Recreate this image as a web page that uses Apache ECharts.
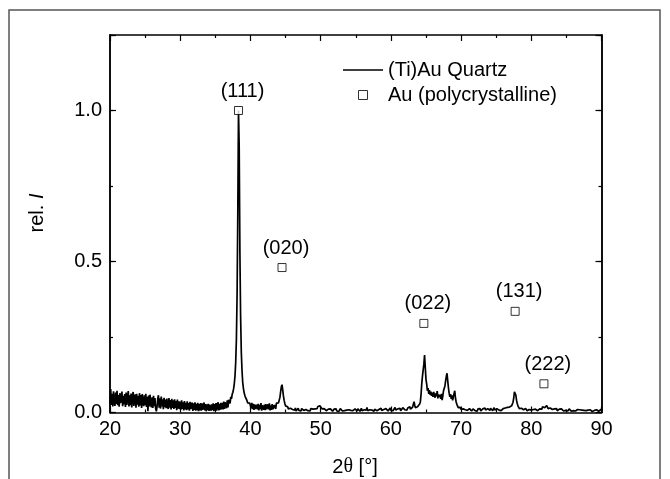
<!DOCTYPE html>
<html><head><meta charset="utf-8">
<script src="https://cdn.jsdelivr.net/npm/echarts@6/dist/echarts.min.js"></script>
<style>html,body{margin:0;padding:0;background:#fff}#c{width:670px;height:479px}</style>
</head><body><div id="c"></div>
<script>
// ---- data ----
const angleStart = 20;   // first 2θ sample [°]
const angleStep = 0.1;   // 2θ sampling step [°]
const intensity = [
0.030,0.078,0.025,0.062,0.020,0.070,0.034,0.022,0.066,0.028,
0.072,0.024,0.058,0.019,0.064,0.031,0.026,0.069,0.021,0.055,
0.027,0.061,0.018,0.066,0.025,0.052,0.071,0.020,0.057,0.024,
0.063,0.017,0.054,0.068,0.022,0.049,0.060,0.016,0.062,0.026,
0.055,0.019,0.064,0.023,0.058,0.015,0.061,0.030,0.021,0.057,
0.024,0.062,0.018,0.052,0.004,0.056,0.020,0.059,0.026,0.017,
0.050,0.015,0.055,0.021,0.048,0.013,0.004,0.019,0.046,0.057,
0.016,0.047,0.013,0.053,0.020,0.044,0.011,0.049,0.018,0.043,
0.014,0.046,0.019,0.012,0.048,0.016,0.041,0.010,0.045,0.015,
0.040,0.012,0.044,0.015,0.038,0.008,0.043,0.013,0.037,0.011,
0.036,0.009,0.040,0.012,0.034,0.007,0.038,0.010,0.032,0.008,
0.037,0.010,0.031,0.006,0.035,0.011,0.007,0.033,0.005,0.030,
0.009,0.034,0.006,0.029,0.008,0.032,0.004,0.028,0.007,0.031,
0.006,0.030,0.009,0.005,0.033,0.007,0.028,0.004,0.027,0.008,
0.029,0.005,0.026,0.032,0.006,0.027,0.008,0.030,0.004,0.028,
0.008,0.031,0.006,0.027,0.034,0.007,0.029,0.009,0.032,0.010,
0.032,0.010,0.036,0.012,0.034,0.038,0.014,0.040,0.017,0.042,
0.048,0.030,0.052,0.045,0.060,0.067,0.078,0.095,0.120,0.165,
0.240,0.390,0.660,1.000,0.880,0.530,0.320,0.200,0.140,0.100,
0.080,0.066,0.057,0.050,0.045,0.040,0.032,0.037,0.028,0.031,
0.030,0.014,0.032,0.011,0.029,0.009,0.027,0.012,0.008,0.026,
0.010,0.029,0.007,0.025,0.011,0.031,0.006,0.024,0.028,0.009,
0.026,0.008,0.028,0.011,0.006,0.027,0.010,0.030,0.007,0.024,
0.009,0.028,0.011,0.007,0.025,0.029,0.012,0.031,0.033,0.026,
0.032,0.038,0.050,0.068,0.085,0.092,0.075,0.055,0.040,0.030,
0.022,0.025,0.016,0.019,0.012,0.017,0.009,0.014,0.011,0.016,
0.010,0.006,0.013,0.008,0.015,0.005,0.011,0.009,0.014,0.007,
0.012,0.008,0.005,0.013,0.009,0.016,0.007,0.011,0.006,0.010,
0.008,0.014,0.006,0.010,0.012,0.005,0.013,0.009,0.007,0.011,
0.009,0.006,0.012,0.008,0.014,0.013,0.020,0.024,0.019,0.022,
0.017,0.021,0.012,0.015,0.010,0.013,0.008,0.011,0.006,0.010,
0.007,0.011,0.005,0.009,0.012,0.006,0.010,0.004,0.008,0.011,
0.006,0.009,0.012,0.005,0.008,0.010,0.004,0.009,0.013,0.007,
0.010,0.005,0.008,0.011,0.006,0.009,0.003,0.008,0.012,0.006,
0.009,0.004,0.011,0.007,0.010,0.013,0.006,0.009,0.005,0.012,
0.008,0.010,0.005,0.012,0.007,0.009,0.004,0.010,0.014,0.006,
0.011,0.007,0.009,0.005,0.012,0.008,0.017,0.006,0.010,0.007,
0.009,0.005,0.012,0.008,0.006,0.010,0.004,0.011,0.007,0.009,
0.006,0.012,0.008,0.010,0.005,0.009,0.014,0.007,0.011,0.008,
0.010,0.006,0.009,0.013,0.007,0.011,0.005,0.010,0.008,0.015,
0.007,0.011,0.009,0.006,0.012,0.010,0.017,0.008,0.011,0.007,
0.012,0.008,0.010,0.014,0.006,0.011,0.009,0.016,0.010,0.013,
0.009,0.014,0.011,0.008,0.015,0.010,0.013,0.019,0.011,0.015,
0.012,0.018,0.027,0.036,0.024,0.016,0.021,0.014,0.019,0.024,
0.022,0.028,0.035,0.060,0.095,0.120,0.140,0.160,0.190,0.150,
0.110,0.095,0.072,0.081,0.062,0.074,0.058,0.069,0.055,0.066,
0.052,0.068,0.057,0.049,0.063,0.054,0.071,0.047,0.060,0.051,
0.058,0.045,0.062,0.041,0.055,0.072,0.066,0.088,0.105,0.120,
0.130,0.105,0.082,0.064,0.052,0.061,0.045,0.057,0.040,0.052,
0.062,0.072,0.048,0.035,0.027,0.022,0.016,0.020,0.013,0.017,
0.010,0.014,0.008,0.012,0.006,0.011,0.009,0.005,0.012,0.007,
0.010,0.006,0.013,0.008,0.011,0.005,0.009,0.012,0.007,0.010,
0.006,0.011,0.008,0.004,0.012,0.009,0.007,0.013,0.005,0.010,
0.009,0.012,0.006,0.010,0.015,0.008,0.011,0.007,0.013,0.009,
0.011,0.007,0.014,0.009,0.012,0.006,0.010,0.016,0.008,0.012,
0.009,0.013,0.007,0.011,0.008,0.014,0.010,0.006,0.012,0.009,
0.013,0.008,0.011,0.015,0.009,0.012,0.017,0.011,0.014,0.018,
0.015,0.019,0.022,0.026,0.034,0.048,0.068,0.074,0.058,0.040,
0.030,0.022,0.018,0.013,0.016,0.010,0.014,0.008,0.012,0.009,
0.011,0.007,0.013,0.009,0.006,0.012,0.008,0.010,0.005,0.011,
0.008,0.012,0.006,0.010,0.014,0.007,0.011,0.009,0.013,0.006,
0.010,0.007,0.012,0.009,0.015,0.011,0.019,0.014,0.022,0.016,
0.020,0.015,0.023,0.017,0.013,0.019,0.011,0.015,0.009,0.013,
0.010,0.014,0.008,0.012,0.007,0.011,0.013,0.006,0.010,0.008,
0.011,0.006,0.009,0.012,0.007,0.010,0.005,0.009,0.011,0.007,
0.008,0.010,0.005,0.009,0.012,0.006,0.008,0.004,0.010,0.007,
0.006,0.009,0.011,0.005,0.008,0.004,0.010,0.007,0.005,0.009,
0.007,0.004,0.008,0.010,0.005,0.007,0.003,0.009,0.006,0.008,
0.005,0.008,0.004,0.007,0.009,0.005,0.006,0.003,0.008,0.005,
0.007,0.004,0.006,0.009,0.005,0.007,0.004,0.008,0.006,0.010,
0.008
];
const refAngles = [38.3, 44.5, 64.7, 77.7, 81.8];
const refIntensity = [1.0, 0.48, 0.295, 0.335, 0.095];
const refLabels = ['(111)', '(020)', '(022)', '(131)', '(222)'];
const seriesNames = ['(Ti)Au Quartz', 'Au (polycrystalline)'];
const xMin = 20, xMax = 90, xStep = 10;
const yMin = 0, yMax = 1.25, yStep = 0.5;

// ---- build ----
const FONT = '"Liberation Sans", Arial, sans-serif';
const FS = 20;
const lineData = intensity.map((v, i) => [+(angleStart + i * angleStep).toFixed(1), v]);
const refData = refAngles.map((a, i) => ({ value: [a, refIntensity[i]], name: refLabels[i] }));

const chart = echarts.init(document.getElementById('c'), null, { renderer: 'canvas' });

function xAx(pos, labels) {
  return {
    type: 'value', position: pos, min: xMin, max: xMax, interval: xStep,
    axisLine: { show: true, onZero: false, lineStyle: { color: '#000', width: 1.5 } },
    axisTick: { show: true, inside: true, length: 6, lineStyle: { color: '#000', width: 1.2 } },
    minorTick: { show: true, splitNumber: 2, length: 3, lineStyle: { color: '#000', width: 1.2 } },
    axisLabel: { show: labels, fontSize: FS, color: '#000', fontFamily: FONT, margin: 7 },
    splitLine: { show: false }
  };
}
function yAx(pos, labels, step, tickLen) {
  return {
    type: 'value', position: pos, min: yMin, max: yMax, interval: step,
    axisLine: { show: true, onZero: false, lineStyle: { color: '#000', width: 1.5 } },
    axisTick: { show: true, inside: true, length: tickLen, lineStyle: { color: '#000', width: 1.2 } },
    axisLabel: {
      show: labels, fontSize: FS, color: '#000', fontFamily: FONT, margin: 8,
      formatter: v => (Math.abs(v / yStep - Math.round(v / yStep)) < 1e-6 ? v.toFixed(1) : '')
    },
    splitLine: { show: false }
  };
}

chart.setOption({
  animation: false,
  backgroundColor: '#fff',
  grid: { left: 110, top: 35, width: 491.5, height: 377.5, containLabel: false },
  xAxis: [xAx('bottom', true), xAx('top', false)],
  yAxis: [
    yAx('left', true, yStep, 6),
    yAx('left', false, yStep / 2, 3),
    yAx('right', false, yStep, 6),
    yAx('right', false, yStep / 2, 3)
  ],
  legend: {
    orient: 'vertical', left: 343, top: 60, padding: 0, itemWidth: 40, itemHeight: 9, itemGap: 5,
    textStyle: { fontSize: FS, color: '#000', fontFamily: FONT },
    data: [
      { name: seriesNames[0], icon: 'path://M0,0L40,0L40,1.4L0,1.4Z',
        itemStyle: { color: '#000', borderWidth: 0 } },
      { name: seriesNames[1], icon: 'path://M0,0L9,0L9,9L0,9Z',
        itemStyle: { color: '#fff', borderColor: '#000', borderWidth: 1 } }
    ]
  },
  series: [
    {
      name: seriesNames[0], type: 'line', data: lineData, xAxisIndex: 0, yAxisIndex: 0,
      symbol: 'none', showSymbol: false, lineStyle: { color: '#000', width: 1.7 },
      itemStyle: { color: '#000' }, z: 2
    },
    {
      name: seriesNames[1], type: 'scatter', data: refData, xAxisIndex: 0, yAxisIndex: 0,
      symbol: 'rect', symbolSize: 8,
      itemStyle: { color: '#fff', borderColor: '#000', borderWidth: 1 },
      label: {
        show: true, position: 'top', distance: 5, offset: [4, 0],
        formatter: p => p.name, fontSize: FS, color: '#000', fontFamily: FONT,
        textBorderWidth: 0, opacity: 1
      },
      z: 3
    }
  ],
  graphic: [
    { type: 'rect', shape: { x: 9, y: 10, width: 651, height: 500 },
      style: { fill: 'none', stroke: '#555', lineWidth: 1.5 }, silent: true },
    { type: 'text', x: 37, y: 213, rotation: Math.PI / 2,
      style: { text: '{a|rel. }{b|I}', align: 'center', verticalAlign: 'middle',
        rich: { a: { fontSize: FS, fontFamily: FONT, fill: '#000' },
                b: { fontSize: FS, fontFamily: FONT, fontStyle: 'italic', fill: '#000' } } } },
    { type: 'text', x: 355, y: 467,
      style: { text: '{a|2}{b|θ}{a| [°]}', align: 'center', verticalAlign: 'middle',
        rich: { a: { fontSize: FS, fontFamily: FONT, fill: '#000' },
                b: { fontSize: FS, fontFamily: '"Liberation Serif", "DejaVu Serif", serif', fill: '#000' } } } }
  ]
});
</script>
</body></html>
